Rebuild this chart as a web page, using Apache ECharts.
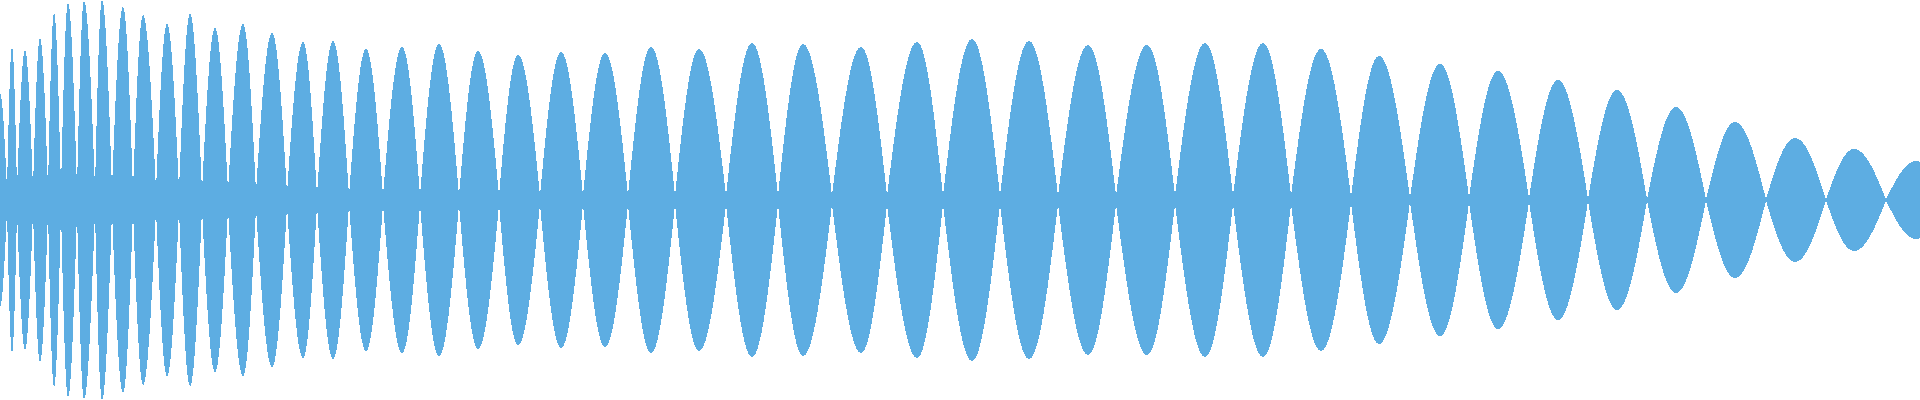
<!DOCTYPE html>
<html>
<head>
<meta charset="utf-8">
<style>
  html, body { margin: 0; padding: 0; background: #ffffff; }
  #chart { width: 1920px; height: 400px; }
  #chart svg path { shape-rendering: crispEdges; }
</style>
<script src="https://cdn.jsdelivr.net/npm/echarts@6/dist/echarts.min.js"></script>
</head>
<body>
<div id="chart"></div>
<script>
// Zero crossings (nodes) of the waveform envelope, in samples
const nodes = [-6, 7, 17, 33, 48, 61, 77, 95, 112, 133, 156, 179, 202, 228, 256, 287,
  317, 349, 383, 420, 459, 499, 540, 583, 628, 675, 726, 778, 832, 887, 943, 1000,
  1058, 1116, 1175, 1233, 1291, 1351, 1410, 1469, 1529, 1588, 1647, 1706, 1766, 1826,
  1886, 1946];
// Position of each lobe's peak, in samples
const peakX = [0, 12, 25, 40, 54, 68, 84, 102, 123, 143, 167, 190, 215, 243, 272, 303,
  333, 366, 402, 439, 478, 518, 561, 605, 651, 699, 752, 803, 861, 917, 972, 1029,
  1088, 1147, 1205, 1263, 1321, 1379, 1440, 1498, 1558, 1617, 1676, 1735, 1795, 1854,
  1916];
// Peak amplitude of each lobe (normalised)
const peakAmp = [0.535, 0.765, 0.75, 0.81, 0.935, 0.985, 0.995, 1.0, 0.965, 0.925, 0.88,
  0.93, 0.86, 0.88, 0.835, 0.79, 0.795, 0.755, 0.765, 0.78, 0.745, 0.725, 0.74, 0.735,
  0.765, 0.755, 0.785, 0.78, 0.765, 0.79, 0.805, 0.795, 0.775, 0.775, 0.785, 0.785,
  0.755, 0.72, 0.68, 0.645, 0.6, 0.55, 0.465, 0.39, 0.31, 0.255, 0.195];
// Residual amplitude left at each node
const nodeFloor = [0.05, 0.05, 0.055, 0.055, 0.055, 0.055, 0.055, 0.055, 0.055, 0.05,
  0.05, 0.05, 0.045, 0.045, 0.04, 0.035, 0.025, 0.022, 0.022, 0.022, 0.022, 0.022,
  0.022, 0.022, 0.022, 0.022, 0.022, 0.022, 0.022, 0.022, 0.022, 0.022, 0.022, 0.022,
  0.022, 0.022, 0.022, 0.016, 0.01, 0.014, 0.01, 0.006, 0.004, 0.004, 0.004, 0.003,
  0.003, 0.003];

const lobes = peakX.map((p, i) => [nodes[i], p, nodes[i + 1], peakAmp[i], nodeFloor[i], nodeFloor[i + 1]]);

const chart = echarts.init(document.getElementById('chart'), null, { renderer: 'svg' });

function renderLobe(params, api) {
  const s = api.value(0), p = api.value(1), e = api.value(2);
  const a = api.value(3), fs = api.value(4), fe = api.value(5);
  const steps = 30;
  const upper = [];
  for (let k = 0; k <= steps; k++) {
    upper.push([s + (p - s) * k / steps, fs + (a - fs) * Math.sin(Math.PI / 2 * k / steps)]);
  }
  for (let k = 1; k <= steps; k++) {
    upper.push([p + (e - p) * k / steps, fe + (a - fe) * Math.cos(Math.PI / 2 * k / steps)]);
  }
  const pts = [];
  upper.forEach(d => pts.push(api.coord([d[0], d[1]])));
  for (let k = upper.length - 1; k >= 0; k--) {
    pts.push(api.coord([upper[k][0], -upper[k][1]]));
  }
  return {
    type: 'polygon',
    shape: { points: pts },
    style: { fill: '#5DADE2' }
  };
}

chart.setOption({
  animation: false,
  backgroundColor: '#ffffff',
  grid: { left: 0, right: 0, top: 0, bottom: 0 },
  xAxis: { type: 'value', min: 0, max: 1920, show: false },
  yAxis: { type: 'value', min: -1, max: 1, show: false },
  series: [{
    type: 'custom',
    clip: true,
    renderItem: renderLobe,
    encode: { x: [0, 1, 2], y: 3 },
    data: lobes
  }]
});
</script>
</body>
</html>
